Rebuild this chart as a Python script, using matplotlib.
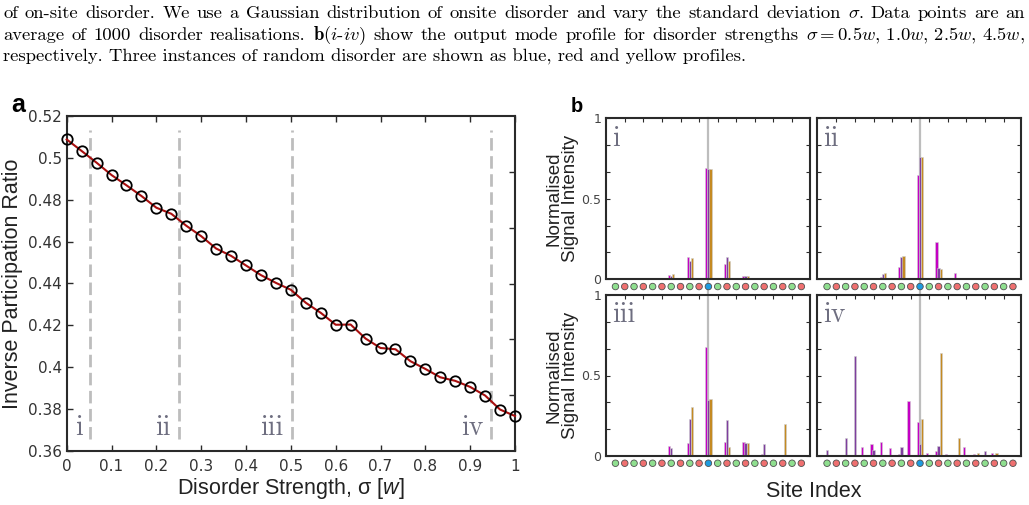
"""
Inverse participation ratio vs disorder strength, plus output mode profiles
"""
import re
import numpy as np
import matplotlib
matplotlib.use('Agg')
import matplotlib.pyplot as plt
import matplotlib.transforms as mtransforms
from matplotlib.ticker import FuncFormatter

plt.rcParams['font.family'] = ['Liberation Sans', 'DejaVu Sans']
plt.rcParams['mathtext.fontset'] = 'custom'
plt.rcParams['mathtext.rm'] = 'Liberation Sans'
plt.rcParams['mathtext.it'] = 'Liberation Sans:italic'
plt.rcParams['mathtext.bf'] = 'Liberation Sans:bold'

# ---- data: panel a ----
sigma = np.linspace(0, 1, 31)
ipr = [0.5088, 0.5033, 0.4977, 0.4918, 0.4869, 0.4818, 0.4762, 0.4733,
       0.4676, 0.4626, 0.4567, 0.4532, 0.4486, 0.4440, 0.4403, 0.4370,
       0.4308, 0.4260, 0.4203, 0.4204, 0.4137, 0.4092, 0.4086, 0.4029,
       0.3992, 0.3952, 0.3935, 0.3906, 0.3865, 0.3798, 0.3767]
marker_sigmas = [0.053, 0.25, 0.502, 0.947]
marker_labels = ['i', 'ii', 'iii', 'iv']

# ---- data: panel b (21 sites, three disorder instances each) ----
sites = np.arange(21)
site_colors = ['g', 'r', 'g', 'r', 'g', 'r', 'g', 'r', 'g', 'r', 'b',
               'g', 'r', 'g', 'r', 'g', 'r', 'g', 'r', 'g', 'r']
centre_site = 10

prof_i_1 = [0, 0, 0, 0, 0.003, 0, 0.027, 0, 0.141, 0, 0.694, 0, 0.095, 0, 0.021, 0, 0.003, 0, 0, 0, 0]
prof_i_2 = [0, 0, 0, 0, 0.005, 0, 0.020, 0, 0.116, 0, 0.687, 0, 0.141, 0, 0.023, 0, 0.003, 0, 0, 0, 0]
prof_i_3 = [0, 0, 0, 0, 0.003, 0, 0.030, 0, 0.130, 0, 0.684, 0, 0.114, 0, 0.020, 0, 0.002, 0, 0, 0, 0]

prof_ii_1 = [0, 0, 0, 0, 0, 0, 0.013, 0, 0.077, 0, 0.647, 0, 0.231, 0, 0.040, 0, 0.004, 0, 0.002, 0, 0]
prof_ii_2 = [0, 0, 0, 0, 0.003, 0, 0.033, 0, 0.139, 0, 0.760, 0, 0.071, 0, 0.005, 0, 0.003, 0, 0.001, 0, 0]
prof_ii_3 = [0, 0, 0, 0, 0.010, 0, 0.038, 0, 0.145, 0, 0.757, 0, 0.063, 0, 0.002, 0, 0.001, 0, 0, 0, 0]

prof_iii_1 = [0, 0, 0.002, 0, 0.002, 0, 0.060, 0, 0.082, 0, 0.678, 0, 0.085, 0, 0.089, 0, 0.015, 0, 0.002, 0, 0]
prof_iii_2 = [0, 0, 0.001, 0, 0.004, 0, 0.052, 0, 0.227, 0, 0.346, 0, 0.222, 0, 0.079, 0, 0.072, 0, 0.004, 0, 0]
prof_iii_3 = [0, 0, 0, 0, 0.002, 0, 0.004, 0, 0.302, 0, 0.356, 0, 0.056, 0, 0.079, 0, 0, 0, 0.197, 0, 0]

prof_iv_1 = [0.008, 0.008, 0, 0, 0.056, 0.075, 0.089, 0.050, 0.015, 0.344, 0.210,
             0.019, 0.033, 0.012, 0.004, 0.058, 0.012, 0, 0.021, 0, 0.002]
prof_iv_2 = [0.035, 0.004, 0.110, 0.624, 0, 0.037, 0, 0.008, 0.058, 0, 0.077,
             0.008, 0.064, 0, 0.008, 0, 0, 0.029, 0, 0.006, 0.002]
prof_iv_3 = [0, 0, 0, 0, 0, 0, 0, 0, 0.008, 0, 0.228,
             0, 0.637, 0, 0.114, 0, 0.021, 0, 0.017, 0, 0]

caption_lines = [
    r"of on-site disorder. We use a Gaussian distribution of onsite disorder and vary the standard deviation $\sigma$. Data points are an",
    r"average of 1000 disorder realisations. $\mathbf{b}(i$-$iv)$ show the output mode profile for disorder strengths $\sigma=0.5w,\,1.0w,\,2.5w,\,4.5w,$",
    r"respectively. Three instances of random disorder are shown as blue, red and yellow profiles.",
]

# ---- styles ----
SPINE = '#2a2a2a'
TICKC = '#333333'
NUMERAL = '#6e6e80'
BAR_COLORS = ['#c400c4', '#7e3f9e', '#c48a22']
SITE_RGB = {'g': '#8fdf8f', 'r': '#ef7070', 'b': '#1e9be0'}
W_PX, H_PX = 1029, 505


def style_spines(ax):
    for s in ax.spines.values():
        s.set_color(SPINE)
        s.set_linewidth(1.5)


def draw_caption(fig):
    """Justified caption lines in a Computer Modern look"""
    renderer = fig.canvas.get_renderer()
    kw = dict(family=['cmr10', 'DejaVu Serif'], math_fontfamily='cm', va='baseline')
    # size the font so the last (natural width) line ends where it does in print
    probe = fig.text(0, 0, caption_lines[2], fontsize=10, **kw)
    w10 = probe.get_window_extent(renderer).width
    probe.remove()
    fs = 10 * 749 / w10
    baselines = [18, 40, 62]
    x0, x1 = 3, 1025
    for k, line in enumerate(caption_lines):
        y = 1 - baselines[k] / H_PX
        if k == 2:
            fig.text(x0 / W_PX, y, line, fontsize=fs, **kw)
            continue
        words = re.findall(r'(?:\$[^$]*\$|[^\s$])+', line)
        texts = [fig.text(0, y, w, fontsize=fs, **kw) for w in words]
        widths = [t.get_window_extent(renderer).width for t in texts]
        gap = (x1 - x0 - sum(widths)) / (len(words) - 1)
        x = x0
        for t, w in zip(texts, widths):
            t.set_x(x / W_PX)
            x += w + gap


def plot_ipr(fig):
    ax = fig.add_axes([66.7 / W_PX, 1 - 451 / H_PX, 448.3 / W_PX, 335 / H_PX])
    for xs in marker_sigmas:
        ax.axvline(xs, ymin=0.036, ymax=0.958, color='#bdbdbd', lw=2,
                   linestyle=(0, (4.5, 2)), zorder=1)
    for xs, lab in zip(marker_sigmas, marker_labels):
        ax.text(xs - 0.018, 0.3675, lab, ha='right', va='baseline', fontsize=20,
                family=['cmr10', 'DejaVu Serif'], color=NUMERAL)
    ax.plot(sigma, ipr, color='#a80f0f', lw=1.5, marker='o', ms=7.5,
            mfc='none', mec='black', mew=1.3, zorder=3, clip_on=False)
    ax.set_xlim(0, 1)
    ax.set_ylim(0.36, 0.52)
    ax.set_xticks(np.arange(0, 1.01, 0.1))
    ax.set_yticks(np.arange(0.36, 0.521, 0.02))
    fmt = FuncFormatter(lambda v, p: f'{v:.2f}'.rstrip('0').rstrip('.'))
    ax.xaxis.set_major_formatter(fmt)
    ax.yaxis.set_major_formatter(fmt)
    ax.tick_params(direction='in', length=4, width=1, color=SPINE, top=True,
                   labelsize=11, labelcolor=TICKC, labelfontfamily='DejaVu Sans')
    ax.tick_params(axis='x', pad=6)
    style_spines(ax)
    ax.set_ylabel('Inverse Participation Ratio', fontsize=15.5, color='#222')
    ax.yaxis.set_label_coords(-0.098, 0.5)
    ax.set_xlabel(r'Disorder Strength, σ [$\mathit{w}$]', fontsize=15.5,
                  color='#222', va='baseline')
    ax.xaxis.set_label_coords(0.5, -0.128)
    # the right-hand axis carries its own (unlabelled) ticks
    axr = ax.twinx()
    axr.set_ylim(0, 1)
    axr.set_yticks(np.arange(1, 6) / 6)
    axr.set_yticklabels([])
    axr.tick_params(direction='in', length=4, width=1, color=SPINE)
    for s in axr.spines.values():
        s.set_visible(False)
    fig.text(11 / W_PX, 1 - 112 / H_PX, 'a', fontsize=18, fontweight='bold')


def plot_profiles(fig):
    panels = [
        ('i', [prof_i_1, prof_i_2, prof_i_3], 605.7, 118.3, True),
        ('ii', [prof_ii_1, prof_ii_2, prof_ii_3], 817.3, 118.3, False),
        ('iii', [prof_iii_1, prof_iii_2, prof_iii_3], 605.7, 295.0, True),
        ('iv', [prof_iv_1, prof_iv_2, prof_iv_3], 817.3, 295.0, False),
    ]
    offsets = [-0.23, 0.0, 0.23]
    for name, profs, left, top, first_col in panels:
        ax = fig.add_axes([left / W_PX, 1 - (top + 161) / H_PX, 204 / W_PX, 161 / H_PX])
        upper = top < 200
        ax.axvline(centre_site, ymin=-0.1 if upper else 0, ymax=1, color='#bdbdbd',
                   lw=1.6, zorder=1, clip_on=False)
        for vals, off, col in zip(profs, offsets, BAR_COLORS):
            ax.bar(sites + off, vals, width=0.24, color=col, edgecolor='#d0d0d0',
                   linewidth=0.4, zorder=2)
        trans = mtransforms.blended_transform_factory(ax.transData, ax.transAxes)
        ax.scatter(sites, np.full(len(sites), -0.045), s=22, transform=trans,
                   c=[SITE_RGB[c] for c in site_colors], edgecolors='#505050',
                   linewidths=0.6, clip_on=False, zorder=5)
        ax.set_xlim(-1.05, 20.9)
        ax.set_ylim(0, 1)
        ax.set_xticks(np.arange(1, 20, 2))
        ax.set_yticks(np.arange(7) / 6)
        ax.set_yticklabels(['0', '', '', '0.5', '', '', '1'] if first_col else [])
        ax.tick_params(axis='x', top=True, bottom=False, labelbottom=False,
                       direction='in', length=3, width=0.8, color=SPINE)
        ax.tick_params(axis='y', left=True, right=True, direction='in', length=3,
                       width=0.8, color=SPINE, labelsize=9, labelcolor='#444',
                       labelfontfamily='DejaVu Sans', pad=3)
        style_spines(ax)
        ax.text(0.03, 0.83, name, transform=ax.transAxes, fontsize=20,
                family=['cmr10', 'DejaVu Serif'], color=NUMERAL, va='baseline')
        if first_col:
            ax.set_ylabel('Normalised\nSignal Intensity', fontsize=13.5,
                          linespacing=0.95, color='#222')
            ax.yaxis.set_label_coords(-0.13, 0.5)
    fig.text(813.5 / W_PX, 1 - 497 / H_PX, 'Site Index', ha='center',
             va='baseline', fontsize=15.5, color='#222')
    fig.text(571 / W_PX, 1 - 112 / H_PX, 'b', fontsize=14.5, fontweight='bold')


def main():
    fig = plt.figure(figsize=(W_PX / 100, H_PX / 100), dpi=100)
    draw_caption(fig)
    plot_ipr(fig)
    plot_profiles(fig)
    fig.savefig('out.png', dpi=100)


if __name__ == '__main__':
    main()
